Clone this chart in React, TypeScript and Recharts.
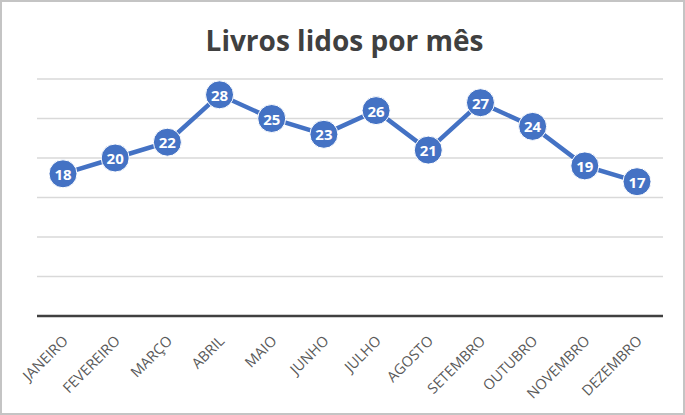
import React from "react";
import { CartesianGrid, LabelList, Line, LineChart, XAxis, YAxis } from "recharts";

const months = [
  "JANEIRO",
  "FEVEREIRO",
  "MARÇO",
  "ABRIL",
  "MAIO",
  "JUNHO",
  "JULHO",
  "AGOSTO",
  "SETEMBRO",
  "OUTUBRO",
  "NOVEMBRO",
  "DEZEMBRO",
];
const booksRead = [18, 20, 22, 28, 25, 23, 26, 21, 27, 24, 19, 17];
const yTicks = [0, 5, 10, 15, 20, 25, 30];

const data = months.map((m, i) => ({ month: m, books: booksRead[i] }));

const FONT = "'Open Sans', 'Noto Sans', sans-serif";
const BLUE = "#4472C4";

function MonthTick(props: any) {
  const { x, y, payload } = props;
  return (
    <g transform={`translate(${x + 2},${y + 14})`}>
      <text
        transform="rotate(-45)"
        textAnchor="end"
        dominantBaseline="central"
        fontSize={14.5}
        fill="#595959"
        fontFamily={FONT}
      >
        {payload.value}
      </text>
    </g>
  );
}

function Dot(props: any) {
  const { cx, cy } = props;
  if (cx == null || cy == null) return null;
  return <circle cx={cx} cy={cy} r={14} fill={BLUE} stroke="#ffffff" strokeWidth={1} />;
}

function ValueLabel(props: any) {
  const { x, y, value } = props;
  return (
    <text
      x={x}
      y={y}
      textAnchor="middle"
      dominantBaseline="central"
      fontSize={15}
      fontWeight={700}
      fill="#ffffff"
      fontFamily={FONT}
    >
      {value}
    </text>
  );
}

export default function App() {
  return (
    <div
      style={{
        position: "absolute",
        left: 0,
        top: 0,
        width: 685,
        height: 415,
        background: "#ffffff",
        boxSizing: "border-box",
        border: "2px solid #c4c4c4",
        fontFamily: FONT,
      }}
    >
      <div
        style={{
          position: "absolute",
          left: 0,
          top: 18,
          width: 685,
          textAlign: "center",
          fontSize: 28,
          fontWeight: 700,
          color: "#404040",
          lineHeight: "40px",
        }}
      >
        Livros lidos por mês
      </div>
      <div style={{ position: "absolute", left: -2, top: -2 }}>
        <LineChart
          width={685}
          height={415}
          data={data}
          margin={{ top: 79, right: 22, bottom: 0, left: 37 }}
        >
          <CartesianGrid vertical={false} stroke="#d9d9d9" strokeWidth={1.5} />
          <YAxis hide domain={[0, 30]} ticks={yTicks} />
          <XAxis
            dataKey="month"
            interval={0}
            tickLine={false}
            axisLine={{ stroke: "#404040", strokeWidth: 2.5 }}
            tick={<MonthTick />}
            height={99}
            padding={{ left: 26, right: 26 }}
          />
          <Line
            type="linear"
            dataKey="books"
            stroke={BLUE}
            strokeWidth={4.5}
            dot={<Dot />}
            activeDot={false}
            isAnimationActive={false}
          >
            <LabelList dataKey="books" content={<ValueLabel />} />
          </Line>
        </LineChart>
      </div>
    </div>
  );
}
